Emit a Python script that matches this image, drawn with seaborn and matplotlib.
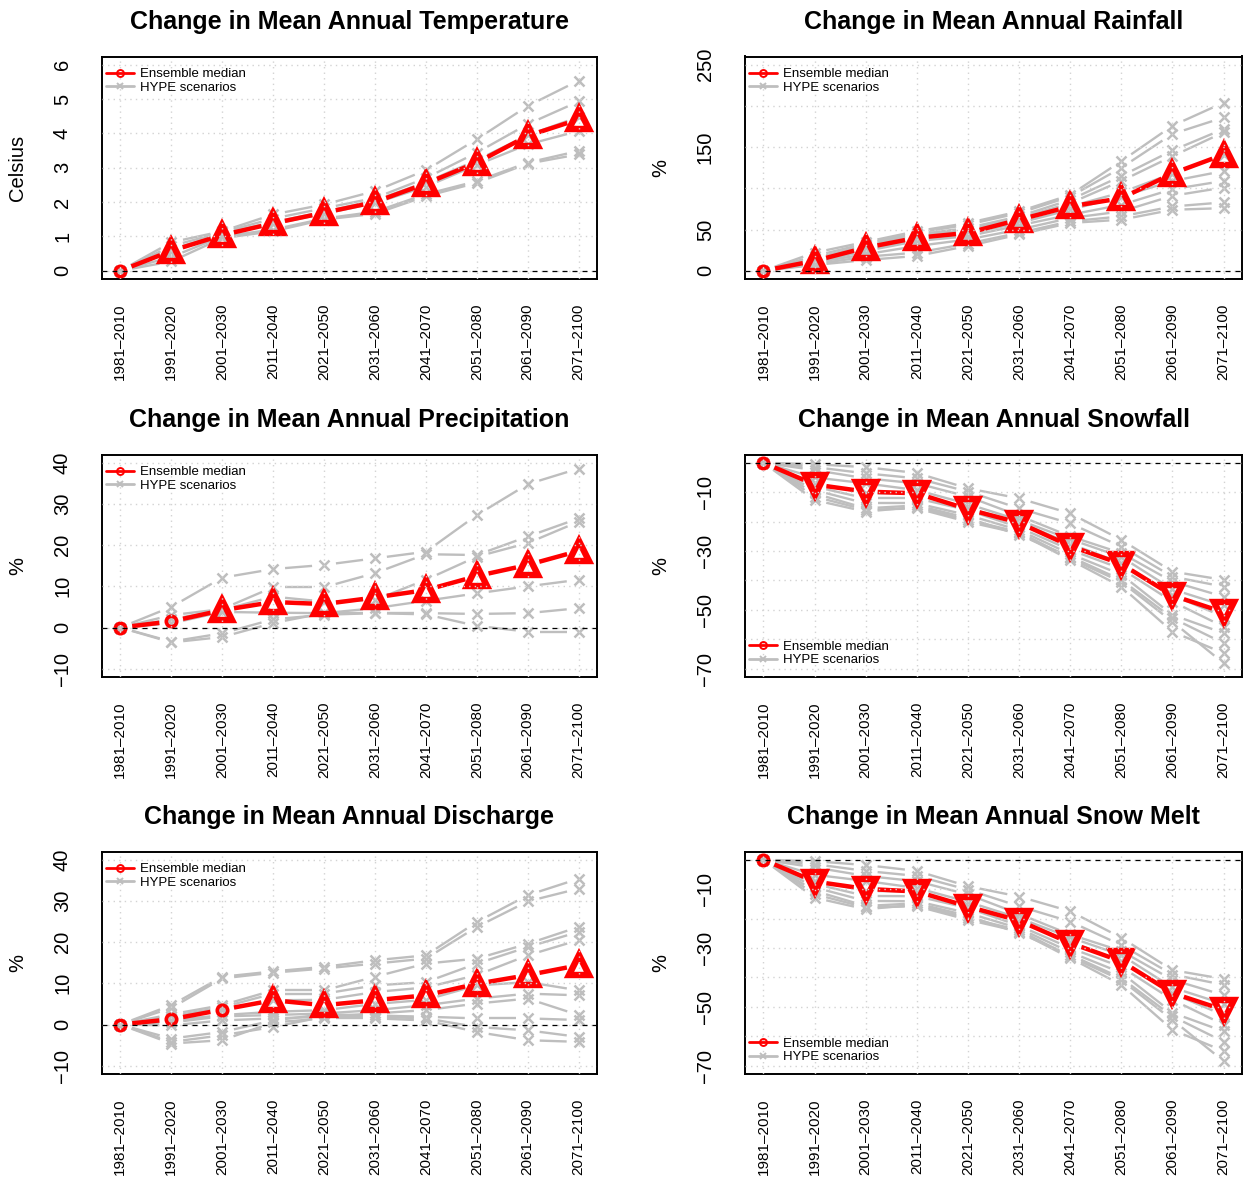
import numpy as np
import pandas as pd
import matplotlib
matplotlib.use("Agg")
import matplotlib.pyplot as plt
from matplotlib.lines import Line2D
import seaborn as sns

# ---------------------------------------------------------------- data
periods = ["1981–2010", "1991–2020", "2001–2030", "2011–2040", "2021–2050",
           "2031–2060", "2041–2070", "2051–2080", "2061–2090", "2071–2100"]

# Temperature change (Celsius)
temp_median = [0, 0.58, 1.04, 1.38, 1.69, 2.00, 2.54, 3.15, 3.93, 4.41]
temp_sig = [0, 1, 1, 1, 1, 1, 1, 1, 1, 1]
temp_scen = [
    [0, 0.83, 1.15, 1.64, 1.93, 2.32, 2.93, 3.83, 4.80, 5.54],
    [0, 0.72, 1.12, 1.52, 1.82, 2.12, 2.70, 3.44, 4.27, 4.93],
    [0, 0.62, 1.08, 1.42, 1.72, 2.05, 2.58, 3.22, 3.95, 4.48],
    [0, 0.55, 1.05, 1.36, 1.66, 1.97, 2.45, 3.08, 3.68, 4.07],
    [0, 0.40, 1.00, 1.20, 1.52, 1.72, 2.23, 2.61, 3.15, 3.49],
    [0, 0.27, 0.95, 1.15, 1.49, 1.66, 2.17, 2.56, 3.12, 3.39],
]
temp_yticks = [0, 1, 2, 3, 4, 5, 6]
temp_yticklabels = ["0", "1", "2", "3", "4", "5", "6"]

# Rainfall change (%)
rain_median = [0, 12, 28, 40, 46, 62, 78, 88, 118, 141]
rain_sig = [0, 1, 1, 1, 1, 1, 1, 1, 1, 1]
rain_scen = [
    [0, 22, 35, 48, 58, 72, 92, 133, 176, 204],
    [0, 18, 33, 46, 56, 70, 90, 125, 166, 186],
    [0, 15, 31, 44, 52, 66, 86, 115, 146, 172],
    [0, 14, 30, 42, 50, 64, 82, 109, 139, 168],
    [0, 12, 28, 40, 47, 62, 78, 95, 118, 141],
    [0, 11, 26, 38, 45, 58, 74, 90, 109, 121],
    [0, 10, 24, 36, 42, 55, 68, 80, 99, 109],
    [0, 10, 20, 30, 38, 50, 64, 72, 91, 101],
    [0, 8, 17, 22, 33, 46, 60, 66, 78, 83],
    [0, 7, 13, 18, 30, 44, 58, 62, 74, 76],
]
rain_yticks = [0, 50, 100, 150, 200, 250]
rain_yticklabels = ["0", "50", "", "150", "", "250"]

# Precipitation change (%)
prec_median = [0, 1.5, 4.2, 6.2, 5.7, 7.3, 9.1, 12.5, 15.2, 18.6]
prec_sig = [0, 0, 1, 1, 1, 1, 1, 1, 1, 1]
prec_scen = [
    [0, 5.0, 12.1, 14.2, 15.2, 16.8, 18.4, 27.3, 34.8, 38.6],
    [0, 3.0, 4.5, 9.8, 9.8, 13.2, 17.8, 17.6, 22.1, 26.5],
    [0, 2.0, 4.3, 7.5, 6.3, 6.7, 11.6, 17.2, 20.5, 25.7],
    [0, 1.0, 3.8, 3.6, 3.5, 4.7, 6.5, 8.3, 10.0, 11.6],
    [0, -3.4, -1.4, 2.0, 3.1, 3.5, 3.5, 3.3, 3.5, 4.7],
    [0, -3.6, -2.3, 1.1, 3.5, 3.5, 3.2, 0.4, -1.0, -1.0],
]
prec_yticks = [-10, 0, 10, 20, 30, 40]
prec_yticklabels = ["−10", "0", "10", "20", "30", "40"]

# Snowfall change (%)
snow_median = [0, -7.4, -9.8, -10.4, -15.8, -20.4, -28.3, -34.4, -45.1, -50.8]
snow_sig = [0, 1, 1, 1, 1, 1, 1, 1, 1, 1]
snow_scen = [
    [0, -0.5, -1.5, -3.5, -8.7, -12.1, -17.2, -26.2, -37.0, -39.8],
    [0, -1.5, -3.6, -5.3, -9.8, -15.5, -20.6, -28.5, -38.7, -42.1],
    [0, -2.5, -5.3, -7.0, -11.5, -18.0, -25.0, -30.7, -40.4, -45.5],
    [0, -5.0, -7.0, -9.3, -14.0, -19.5, -26.0, -32.0, -43.0, -48.5],
    [0, -7.0, -10.4, -10.5, -15.5, -20.1, -27.5, -34.1, -45.0, -52.3],
    [0, -8.1, -12.1, -12.1, -16.1, -22.0, -29.6, -36.0, -47.2, -55.7],
    [0, -9.3, -13.8, -13.8, -17.8, -22.9, -31.0, -38.0, -51.7, -57.9],
    [0, -10.4, -15.5, -14.5, -18.8, -24.5, -31.9, -39.8, -52.8, -61.3],
    [0, -11.5, -16.0, -15.5, -20.1, -24.0, -33.0, -42.1, -57.4, -64.7],
    [0, -12.7, -16.6, -15.0, -19.5, -23.5, -32.5, -40.5, -54.0, -68.1],
]
snow_yticks = [0, -10, -20, -30, -40, -50, -60, -70]
snow_yticklabels = ["", "−10", "", "−30", "", "−50", "", "−70"]

# Discharge change (%)
disc_median = [0, 1.3, 3.6, 5.9, 4.7, 5.9, 7.1, 9.9, 12.0, 14.4]
disc_sig = [0, 0, 0, 1, 1, 1, 1, 1, 1, 1]
disc_scen = [
    [0, 4.7, 11.6, 12.9, 14.0, 15.6, 16.8, 24.9, 31.4, 35.4],
    [0, 4.0, 11.2, 12.6, 13.6, 14.8, 16.0, 23.7, 29.9, 33.0],
    [0, 2.5, 4.7, 8.3, 8.3, 11.6, 14.8, 16.0, 19.6, 23.7],
    [0, 2.0, 4.2, 7.5, 7.5, 9.5, 10.3, 14.8, 18.8, 22.5],
    [0, 1.5, 3.5, 5.9, 6.0, 7.9, 9.0, 12.0, 16.8, 20.5],
    [0, 1.0, 2.3, 3.1, 3.5, 5.0, 6.0, 9.5, 10.3, 8.3],
    [0, 0.5, 2.0, 2.3, 2.7, 3.5, 4.7, 6.3, 7.5, 7.1],
    [0, -0.2, 1.0, 1.5, 1.9, 2.7, 3.5, 5.1, 6.3, 2.3],
    [0, -3.4, -1.8, 1.0, 2.5, 2.2, 1.9, 1.5, 1.5, 1.1],
    [0, -4.2, -2.6, -0.6, 1.9, 1.9, 1.5, -0.6, -1.4, -3.0],
    [0, -4.6, -3.8, 0.5, 1.5, 1.5, 1.0, -1.8, -3.8, -4.2],
]
disc_yticks = [-10, 0, 10, 20, 30, 40]
disc_yticklabels = ["−10", "0", "10", "20", "30", "40"]

# Snow melt change (%)
melt_median = [0, -7.4, -9.9, -10.8, -15.9, -20.7, -28.3, -34.5, -45.3, -51.0]
melt_sig = [0, 1, 1, 1, 1, 1, 1, 1, 1, 1]
melt_scen = [
    [0, -0.5, -1.8, -3.8, -9.0, -12.5, -17.5, -26.5, -37.5, -40.5],
    [0, -1.5, -3.8, -5.5, -10.2, -15.8, -21.0, -29.0, -39.0, -42.5],
    [0, -2.6, -5.5, -7.3, -11.8, -18.4, -25.4, -31.0, -40.8, -46.0],
    [0, -5.1, -7.2, -9.6, -14.3, -19.8, -26.4, -32.4, -43.4, -49.0],
    [0, -7.1, -10.6, -10.8, -15.8, -20.5, -27.9, -34.5, -45.4, -52.8],
    [0, -8.2, -12.3, -12.4, -16.4, -22.4, -30.0, -36.4, -47.6, -56.0],
    [0, -9.4, -14.0, -14.1, -18.1, -23.3, -31.4, -38.4, -52.0, -58.3],
    [0, -10.6, -15.7, -14.8, -19.1, -24.9, -32.3, -40.2, -53.2, -61.8],
    [0, -11.7, -16.2, -15.8, -20.4, -24.4, -33.4, -42.5, -57.8, -65.0],
    [0, -12.9, -16.8, -15.3, -19.8, -23.9, -32.9, -40.9, -54.4, -68.4],
]
melt_yticks = [0, -10, -20, -30, -40, -50, -60, -70]
melt_yticklabels = ["", "−10", "", "−30", "", "−50", "", "−70"]

# ---------------------------------------------------------------- style
sns.set_theme(style="white", rc={"axes.edgecolor": "black",
                                 "xtick.color": "black", "ytick.color": "black",
                                 "text.color": "black", "axes.labelcolor": "black"})
plt.rcParams["font.family"] = ["Liberation Sans", "DejaVu Sans"]

RED = "#FF0000"
GREY = "#BEBEBE"
GRID = "#D3D3D3"
GAP_PX = 12.0

W, H = 1248, 1178
fig = plt.figure(figsize=(W / 100, H / 100), dpi=100)

col_left = [102, 745]
col_width = [495, 497]
row_top = [56.5, 454.5, 851.5]
row_height = 222.5

panels = [
    ("Change in Mean Annual Temperature", "Celsius", temp_median, temp_scen, temp_sig,
     temp_yticks, temp_yticklabels, (0, 6), "upper"),
    ("Change in Mean Annual Rainfall", "%", rain_median, rain_scen, rain_sig,
     rain_yticks, rain_yticklabels, (0, 250), "upper"),
    ("Change in Mean Annual Precipitation", "%", prec_median, prec_scen, prec_sig,
     prec_yticks, prec_yticklabels, (-10, 40), "upper"),
    ("Change in Mean Annual Snowfall", "%", snow_median, snow_scen, snow_sig,
     snow_yticks, snow_yticklabels, (-70, 0), "lower"),
    ("Change in Mean Annual Discharge", "%", disc_median, disc_scen, disc_sig,
     disc_yticks, disc_yticklabels, (-10, 40), "upper"),
    ("Change in Mean Annual Snow Melt", "%", melt_median, melt_scen, melt_sig,
     melt_yticks, melt_yticklabels, (-70, 0), "lower"),
]


def gapped(ax, series, gap_px):
    """Segments between consecutive points, trimmed near each point (type='b')."""
    rows = []
    inv = ax.transData.inverted()
    seg = 0
    for y in series:
        xs = np.arange(len(y), dtype=float)
        pts = ax.transData.transform(np.column_stack([xs, np.asarray(y, float)]))
        for i in range(len(y) - 1):
            p0, p1 = pts[i], pts[i + 1]
            d = p1 - p0
            L = np.hypot(d[0], d[1])
            if L <= 2 * gap_px:
                continue
            u = d / L
            a = inv.transform(p0 + u * gap_px)
            b = inv.transform(p1 - u * gap_px)
            rows.append({"x": a[0], "y": a[1], "seg": seg})
            rows.append({"x": b[0], "y": b[1], "seg": seg})
            seg += 1
    return pd.DataFrame(rows)


xpos = np.arange(len(periods))

for idx, (title, ylab, med, scen, sig, yt, ytl, (lo, hi), legpos) in enumerate(panels):
    r, c = divmod(idx, 2)
    left = col_left[c] / W
    width = col_width[c] / W
    bottom = 1 - (row_top[r] + row_height) / H
    ax = fig.add_axes([left, bottom, width, row_height / H])

    xlim = (-0.36, len(periods) - 1 + 0.36)
    span = hi - lo
    ylim = (lo - 0.04 * span, hi + 0.04 * span)
    ax.set_xlim(*xlim)
    ax.set_ylim(*ylim)
    ax.autoscale(False)

    # trimmed connecting segments, computed while the scales are fixed
    df_s = gapped(ax, scen, GAP_PX)
    df_m = gapped(ax, [med], GAP_PX)

    # scenario lines (grey)
    sns.lineplot(data=df_s, x="x", y="y", units="seg", estimator=None, sort=False,
                 color=GREY, linewidth=1.7, solid_capstyle="butt", legend=False,
                 ax=ax, zorder=2)
    for y in scen:
        ax.plot(xpos, y, ls="none", marker="x", ms=7.5, mew=1.8, color=GREY, zorder=3)

    # ensemble median (red)
    sns.lineplot(data=df_m, x="x", y="y", units="seg", estimator=None, sort=False,
                 color=RED, linewidth=3.2, solid_capstyle="butt", legend=False,
                 ax=ax, zorder=4)
    med_arr = np.asarray(med, float)
    sig_arr = np.asarray(sig, bool)
    up = sig_arr & (med_arr > 0)
    down = sig_arr & (med_arr < 0)
    ax.plot(xpos[~sig_arr], med_arr[~sig_arr], ls="none", marker="o", ms=7.5,
            mfc="none", mec=RED, mew=2.6, zorder=5)
    ax.plot(xpos[up], med_arr[up], ls="none", marker="^", ms=14, mfc="none",
            mec=RED, mew=4.6, zorder=5)
    ax.plot(xpos[down], med_arr[down], ls="none", marker="v", ms=14, mfc="none",
            mec=RED, mew=4.6, zorder=5)

    # dotted grid and zero reference, drawn over the data
    for xv in xpos:
        ax.axvline(xv, color=GRID, lw=1.0, ls=(0, (1, 3)), zorder=6)
    for yv in yt:
        ax.axhline(yv, color=GRID, lw=1.0, ls=(0, (1, 3)), zorder=6)
    ax.axhline(0, color="black", lw=0.9, ls=(0, (4, 4)), zorder=7)

    ax.set_xlim(*xlim)
    ax.set_ylim(*ylim)

    # axes decoration
    ax.set_xticks(xpos)
    ax.set_xticklabels(periods, rotation=90, fontsize=11)
    ax.set_yticks(yt)
    ax.set_yticklabels(ytl, rotation=90, fontsize=14.5, va="center")
    ax.tick_params(axis="both", direction="out", length=8.6, width=1.2)
    ax.tick_params(axis="x", pad=9)
    ax.tick_params(axis="y", pad=13)
    for sp in ax.spines.values():
        sp.set_visible(True)
        sp.set_linewidth(1.4)
        sp.set_color("black")
    ax.set_xlabel("")
    ax.set_ylabel(ylab, fontsize=14.5, va="center")
    ax.yaxis.set_label_coords(-0.17, 0.5)
    ax.set_title(title, fontsize=18, fontweight="bold", pad=20)

    handles = [
        Line2D([], [], color=RED, lw=2.0, marker="o", ms=5, mfc="none", mew=1.4),
        Line2D([], [], color=GREY, lw=2.0, marker="x", ms=5, mew=1.4),
    ]
    labels = ["Ensemble median", "HYPE scenarios"]
    if legpos == "upper":
        leg = ax.legend(handles, labels, loc="upper left", bbox_to_anchor=(0.0, 0.965),
                        frameon=False, fontsize=9.5, handlelength=2.1,
                        handletextpad=0.45, labelspacing=0.1, borderpad=0,
                        borderaxespad=0.3)
    else:
        leg = ax.legend(handles, labels, loc="lower left", bbox_to_anchor=(0.0, 0.03),
                        frameon=False, fontsize=9.5, handlelength=2.1,
                        handletextpad=0.45, labelspacing=0.1, borderpad=0,
                        borderaxespad=0.3)
    leg.set_zorder(10)

fig.savefig("out.png", dpi=100)
